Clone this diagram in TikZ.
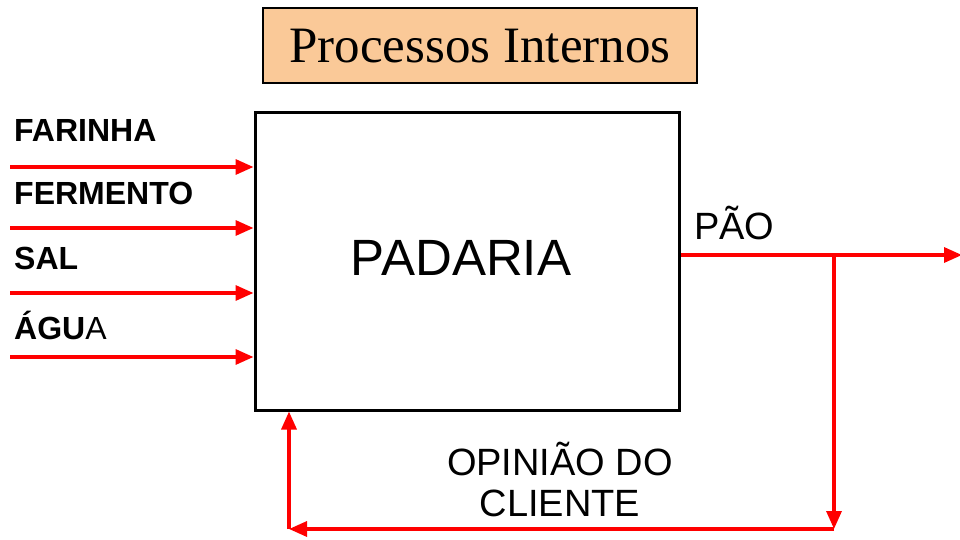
\documentclass[tikz,border=0pt]{standalone}
\usepackage{fontspec}
\setmainfont{Liberation Serif}
\newfontfamily\arialf{Liberation Sans}
\usetikzlibrary{arrows.meta}
\definecolor{titlefill}{RGB}{250,201,152}
\tikzset{
  flow/.style={draw=red, line width=3.3pt, -{Triangle[length=18pt,width=15pt]}},
  inlabel/.style={anchor=west, inner sep=0pt, font=\arialf\fontsize{32}{32}\selectfont\bfseries},
  plainlabel/.style={inner sep=0pt, font=\arialf\fontsize{38}{41}\selectfont, align=center},
}
\begin{document}
\begin{tikzpicture}[x=1pt,y=-1pt]
\useasboundingbox (0,0) rectangle (960,540);
% title
\node[draw=black, line width=2pt, fill=titlefill, minimum width=434pt, minimum height=75pt, inner sep=0pt,
      font=\fontsize{51}{51}\selectfont] (title) at (480,46) {Processos Internos};
% main box
\node[draw=black, line width=3pt, minimum width=424pt, minimum height=297pt, inner sep=0pt] (pad) at (467,261.5) {};
\node[inner sep=0pt, font=\arialf\fontsize{51}{51}\selectfont] (padtxt) at (461,258) {PADARIA};
% inputs
\coordinate (i1) at (10,167);
\coordinate (i2) at (10,228);
\coordinate (i3) at (10,293);
\coordinate (i4) at (10,357);
\draw[flow] (i1) -- (pad.west |- i1);
\draw[flow] (i2) -- (pad.west |- i2);
\draw[flow] (i3) -- (pad.west |- i3);
\draw[flow] (i4) -- (pad.west |- i4);
\node[inlabel] (l1) at (14,130) {FARINHA};
\node[inlabel] (l2) at (14,193) {FERMENTO};
\node[inlabel] (l3) at (14,258) {SAL};
\node[inlabel] (l4) at (14,325) {ÁGU\mdseries A};
% output
\coordinate (out) at (962,255);
\coordinate (br) at (834,255);
\coordinate (brb) at (834,529);
\coordinate (lb) at (289,529);
\draw[flow] (pad.east |- out) -- (out);
\draw[flow] (br) -- (brb);
\draw[flow] (brb) -- (lb);
\draw[flow] (lb) -- (pad.south -| lb);
\node[plainlabel, anchor=west] (pao) at (694,223) {PÃO};
\node[plainlabel] (op) at (560,479) {OPINIÃO DO\\CLIENTE};
\end{tikzpicture}
\end{document}
